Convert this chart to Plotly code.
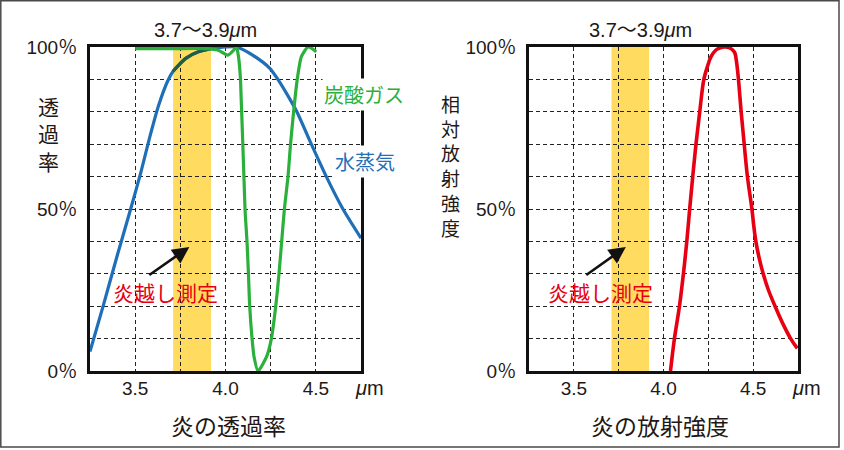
import plotly.graph_objects as go

# ---------------- data ----------------
# wavelength (μm) / transmittance (%) of water vapour (水蒸気)
vapor_x = [3.25, 3.325, 3.40, 3.475, 3.53, 3.58, 3.63, 3.68, 3.71, 3.78, 3.85, 3.92,
           4.0, 4.06, 4.15, 4.244, 4.29, 4.345, 4.395, 4.475, 4.558, 4.65, 4.75]
vapor_y = [6, 20.5, 35.5, 50, 61, 72, 82, 89.5, 92.5, 96.5, 98.5, 99.5,
           100, 100, 97.5, 93.5, 90, 85, 80, 70, 60, 50, 41]

# transmittance (%) of carbon dioxide (炭酸ガス)
co2_x = [3.5, 3.7, 3.9, 3.96, 4.012, 4.045, 4.06, 4.072, 4.083, 4.108, 4.119, 4.127,
         4.134, 4.147, 4.158, 4.18, 4.228, 4.254, 4.278, 4.296, 4.311, 4.326, 4.346,
         4.36, 4.377, 4.397, 4.42, 4.456, 4.48, 4.502]
co2_y = [99.5, 99.5, 99.5, 99, 97.5, 99, 100.2, 97, 90, 50, 40, 30,
         20, 10, 4.4, 0, 4.5, 10, 20, 30, 40, 50, 60,
         70, 80, 90, 97, 100, 99.5, 98.5]

# relative radiant intensity (%) of the flame (炎の放射強度)
flame_x = [4.039, 4.061, 4.089, 4.111, 4.13, 4.146, 4.163, 4.181, 4.202, 4.225, 4.245,
           4.265, 4.291, 4.313, 4.343, 4.369, 4.387, 4.399, 4.407, 4.418, 4.433, 4.45,
           4.468, 4.493, 4.503, 4.515, 4.533, 4.556, 4.585, 4.622, 4.662, 4.709, 4.746]
flame_y = [0, 10, 20, 30, 40, 50, 60, 70, 80, 90, 94,
           97, 99, 99.7, 100, 99.7, 99, 98, 95.5, 90, 80, 70,
           60, 50, 45, 40, 35, 30, 25, 20, 15, 10, 7]

# measurement band 3.7–3.9 μm
band = [3.71, 3.92]

x_tickvals = [3.5, 3.75, 4.0, 4.25, 4.5]
x_ticktext = ["3.5", "", "4.0", "", "4.5"]
y_tickvals = [0, 10, 20, 30, 40, 50, 60, 70, 80, 90, 100]
y_ticktext = ["0％", "", "", "", "", "50％", "", "", "", "", "100％"]

# ---------------- style ----------------
W, H = 844, 450
BLUE = "#1e6fb8"
BLUE_ON_YELLOW = "#1d5e45"
GREEN = "#2bb03b"
RED = "#e60012"
YELLOW = "#ffdc60"
INK = "#231815"
FONT = "Liberation Sans, Noto Sans CJK JP, sans-serif"
JP = "Noto Sans CJK JP, sans-serif"


def px(v):
    return v / W


def py(v):
    return 1 - v / H


fig = go.Figure()

# left: transmittance
fig.add_trace(go.Scatter(x=vapor_x, y=vapor_y, mode="lines", xaxis="x", yaxis="y",
                         line=dict(color=BLUE, width=3.2, shape="spline", smoothing=0.7),
                         hoverinfo="skip", showlegend=False))
seg = [(x, y) for x, y in zip(vapor_x, vapor_y) if band[0] <= x <= band[1]]
fig.add_trace(go.Scatter(x=[p[0] for p in seg], y=[p[1] for p in seg], mode="lines",
                         xaxis="x", yaxis="y",
                         line=dict(color=BLUE_ON_YELLOW, width=3.2, shape="spline", smoothing=0.7),
                         hoverinfo="skip", showlegend=False))
fig.add_trace(go.Scatter(x=co2_x, y=co2_y, mode="lines", xaxis="x", yaxis="y",
                         line=dict(color=GREEN, width=3.2, shape="spline", smoothing=0.6),
                         hoverinfo="skip", showlegend=False))

# right: radiant intensity
fig.add_trace(go.Scatter(x=flame_x, y=flame_y, mode="lines", xaxis="x2", yaxis="y2",
                         line=dict(color=RED, width=3.6, shape="spline", smoothing=1.0),
                         hoverinfo="skip", showlegend=False))

axis_common = dict(
    showgrid=True, gridcolor="#222", gridwidth=1, griddash="4px,3px",
    showline=True, linecolor="#111", linewidth=3, mirror=True,
    zeroline=False, ticks="", fixedrange=True, automargin=False,
    tickfont=dict(family=FONT, size=19, color=INK),
)
xcommon = dict(axis_common, range=[3.25, 4.75], tickvals=x_tickvals, ticktext=x_ticktext,
               ticklabelstandoff=-2)
ycommon = dict(axis_common, range=[0, 100], tickvals=y_tickvals, ticktext=y_ticktext,
               ticklabelstandoff=6)

ydom = [py(371), py(47)]
fig.update_layout(
    width=W, height=H, autosize=False,
    margin=dict(l=0, r=0, t=0, b=0, pad=0, autoexpand=False),
    paper_bgcolor="white", plot_bgcolor="white",
    xaxis=dict(xcommon, domain=[px(90), px(361)], anchor="y"),
    yaxis=dict(ycommon, domain=ydom, anchor="x"),
    xaxis2=dict(xcommon, domain=[px(529), px(798)], anchor="y2"),
    yaxis2=dict(ycommon, domain=ydom, anchor="x2"),
    showlegend=False,
)

# yellow band in both panels
for xr, yr in (("x", "y"), ("x2", "y2")):
    fig.add_shape(type="rect", xref=xr, yref=yr, x0=band[0], x1=band[1], y0=0, y1=100,
                  fillcolor=YELLOW, line=dict(width=0), layer="below")

# outer frame
fig.add_shape(type="rect", xref="paper", yref="paper", x0=px(0.8), x1=px(839), y0=py(447), y1=py(0.8),
              line=dict(color="#4a4a4a", width=1.5), layer="above")


def text(x, y, s, size, color=INK, bg=None, family=JP):
    fig.add_annotation(xref="paper", yref="paper", x=px(x), y=py(y), text=s,
                       showarrow=False, xanchor="center", yanchor="middle",
                       font=dict(family=family, size=size, color=color),
                       bgcolor=bg, borderpad=1)


# band labels on top
text(205, 30, "3.7～3.9<i>μ</i>m", 20, family=FONT)
text(640, 30, "3.7～3.9<i>μ</i>m", 20, family=FONT)

# unit labels
text(369, 388, "<i>μ</i>m", 20, family=FONT)
text(806, 388, "<i>μ</i>m", 20, family=FONT)

# panel titles
text(228, 425, "炎の透過率", 23)
text(660, 425, "炎の放射強度", 23)

# vertical y titles
text(48, 134, "透<br>過<br>率", 21)
text(450, 165, "相<br>対<br>放<br>射<br>強<br>度", 19)

# curve labels
text(364, 94, "炭酸ガス", 20, color=GREEN, bg="white")
text(365, 161, "水蒸気", 20, color=BLUE, bg="white")

# measurement callouts
text(165, 292, "炎越し測定", 21, color=RED)
text(600, 292, "炎越し測定", 21, color=RED)
for xr, yr, hx, tx in (("x", "y", 3.80, 3.57), ("x2", "y2", 3.79, 3.561)):
    fig.add_annotation(xref=xr, yref=yr, axref=xr, ayref=yr, x=hx, y=38.3, ax=tx, ay=29.3,
                       showarrow=True, arrowhead=2, arrowsize=1.3, arrowwidth=2.6,
                       arrowcolor="#111", text="")

fig.write_html(
    "out.html",
    config={"displayModeBar": False, "responsive": False},
    post_script=(
        "var s='margin:0;padding:0;overflow:hidden;width:844px;height:450px;';"
        "document.documentElement.style.cssText=s;document.body.style.cssText=s;"
        "var d=document.getElementById('{plot_id}');"
        "d.style.position='absolute';d.style.left='0px';d.style.top='0px';"
    ),
)
